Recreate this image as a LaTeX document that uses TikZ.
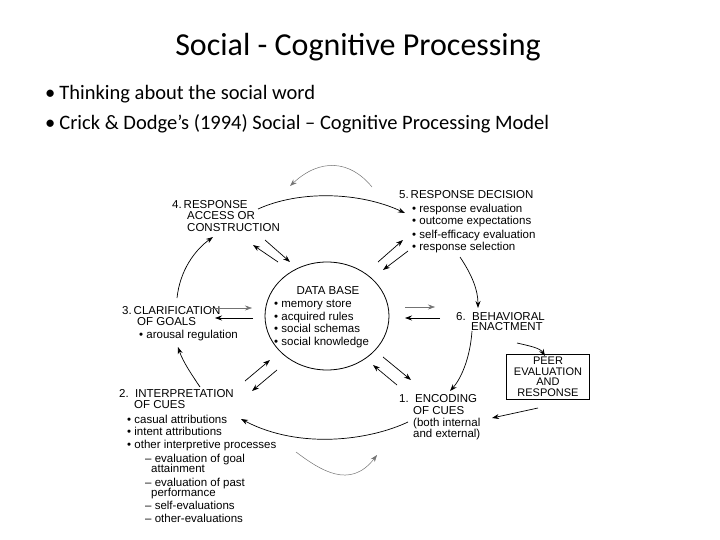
\documentclass[tikz,border=0pt]{standalone}
\usepackage{fontspec}
\setmainfont{Carlito}
\newfontfamily\dg{Liberation Sans}
\usetikzlibrary{arrows.meta}
\begin{document}
\begin{tikzpicture}[x=1pt,y=-1pt,
  t/.style={anchor=base west,inner sep=0pt,font=\dg\fontsize{11.5}{12}\selectfont},
  ar/.style={-{Stealth[length=7pt,width=5pt]},line width=0.7pt},
  gr/.style={-{Stealth[length=7pt,width=5pt]},line width=0.5pt,draw=black!55}]
\useasboundingbox (0,0) rectangle (720,540);
\node[font=\fontsize{32}{36}\selectfont] (title) at (358,47) {Social - Cognitive Processing};
\node[anchor=base west,inner sep=0pt,font=\fontsize{20.5}{22}\selectfont] (b1) at (45,100) {•\kern4pt Thinking about the social word};
\node[anchor=base west,inner sep=0pt,font=\fontsize{20.5}{22}\selectfont] (b2) at (45,130) {•\kern4pt Crick \& Dodge’s (1994) Social – Cognitive Processing Model};
% 4
\node[t] (r4a) at (172,209) {4.\,RESPONSE};
\node[t] (r4b) at (187,220) {ACCESS OR};
\node[t] (r4c) at (187,231) {CONSTRUCTION};
% 5
\node[t] (r5a) at (399,199) {5.\,RESPONSE DECISION};
\node[t] (r5b) at (412,212) {• response evaluation};
\node[t] (r5c) at (412,225) {• outcome expectations};
\node[t] (r5d) at (412,238) {• self-efficacy evaluation};
\node[t] (r5e) at (412,251) {• response selection};
% 3
\node[t] (r3a) at (122,314) {3.\,CLARIFICATION};
\node[t] (r3b) at (137,325) {OF GOALS};
\node[t] (r3c) at (139,338) {• arousal regulation};
% DB
\draw[line width=0.8pt] (327,316) ellipse [x radius=62, y radius=54];
\node[t,anchor=base] (dba) at (328,294) {DATA BASE};
\node[t] (dbb) at (274,307) {• memory store};
\node[t] (dbc) at (274,320) {• acquired rules};
\node[t] (dbd) at (274,332) {• social schemas};
\node[t] (dbe) at (274,345) {• social knowledge};
% 6
\node[t] (r6a) at (456,320) {6.\ \ BEHAVIORAL};
\node[t] (r6b) at (471,330) {ENACTMENT};
% peer
\node[draw,line width=0.8pt,minimum width=83pt,minimum height=45pt,align=center,inner sep=1pt,font=\dg\fontsize{11}{10.5}\selectfont] (peer) at (548,377) {PEER\\EVALUATION\\AND\\RESPONSE};
% 1
\node[t] (r1a) at (399,402) {1.\ \ ENCODING};
\node[t] (r1b) at (413,414) {OF CUES};
\node[t] (r1c) at (413,426) {(both internal};
\node[t] (r1d) at (413,437) {and external)};
% 2
\node[t] (r2a) at (119,397) {2.\ \ INTERPRETATION};
\node[t] (r2b) at (134,408) {OF CUES};
\node[t] (r2c) at (127,423) {• casual attributions};
\node[t] (r2d) at (127,435) {• intent attributions};
\node[t] (r2e) at (127,448) {• other interpretive processes};
\node[t] (r2f) at (145,462) {– evaluation of goal};
\node[t] (r2g) at (151,472) {attainment};
\node[t] (r2h) at (145,486) {– evaluation of past};
\node[t] (r2i) at (151,496) {performance};
\node[t] (r2j) at (145,509) {– self-evaluations};
\node[t] (r2k) at (145,522) {– other-evaluations};
% coordinates
\foreach \n/\x/\y in {g1a/372/187,g1b/290/186,a45s/258/209,a45e/405/213,
 a4d1s/265/240,a4d1e/290/262,a4d2s/278/262,a4d2e/253/245,
 a5d1s/378/262,a5d1e/403/240,a5d2s/408/251,a5d2e/383/270,
 a56s/460/257,a56e/478/308,a6d1s/405/307,a6d1e/435/307,a6d2s/440/318,a6d2e/405/318,
 a3d1s/210/308,a3d1e/252/308,a3d2s/253/318,a3d2e/215/318,
 a34s/177/298,a34e/213/237,a23s/200/387,a23e/178/347,
 a2d1s/245/381,a2d1e/270/360,a2d2s/277/370,a2d2e/252/391,
 a61s/472/331,a61e/450/391,a6ps/517/343,a6pe/545/356,aps/538/408,
 a1d1s/397/385,a1d1e/373/365,a1d2s/383/357,a1d2e/411/380,
 a12s/408/422,a12e/241/419,g2a/296/452,g2b/377/455}
 {\coordinate (\n) at (\x,\y);}
\coordinate (ape) at (492,418);
\draw[gr] (g1a) .. controls (350,160) and (320,158) .. (g1b);
\draw[ar] (a45s) .. controls (300,190) and (360,192) .. (a45e);
\draw[ar] (a4d1s) -- (a4d1e);
\draw[ar] (a4d2s) -- (a4d2e);
\draw[ar] (a5d1s) -- (a5d1e);
\draw[ar] (a5d2s) -- (a5d2e);
\draw[ar] (a56s) .. controls (472,275) and (478,290) .. (a56e);
\draw[gr] (a6d1s) -- (a6d1e);
\draw[ar] (a6d2s) -- (a6d2e);
\draw[gr] (a3d1s) -- (a3d1e);
\draw[ar] (a3d2s) -- (a3d2e);
\draw[ar] (a34s) .. controls (180,270) and (195,250) .. (a34e);
\draw[ar] (a23s) .. controls (192,375) and (183,362) .. (a23e);
\draw[ar] (a2d1s) -- (a2d1e);
\draw[ar] (a2d2s) -- (a2d2e);
\draw[ar] (a61s) .. controls (470,360) and (460,380) .. (a61e);
\draw[ar] (a6ps) .. controls (530,346) and (540,348) .. (a6pe);
\draw[ar] (aps) -- (ape);
\draw[ar] (a1d1s) -- (a1d1e);
\draw[ar] (a1d2s) -- (a1d2e);
\draw[ar] (a12s) .. controls (370,440) and (300,450) .. (a12e);
\draw[gr] (g2a) .. controls (320,470) and (350,490) .. (g2b);
\end{tikzpicture}
\end{document}
